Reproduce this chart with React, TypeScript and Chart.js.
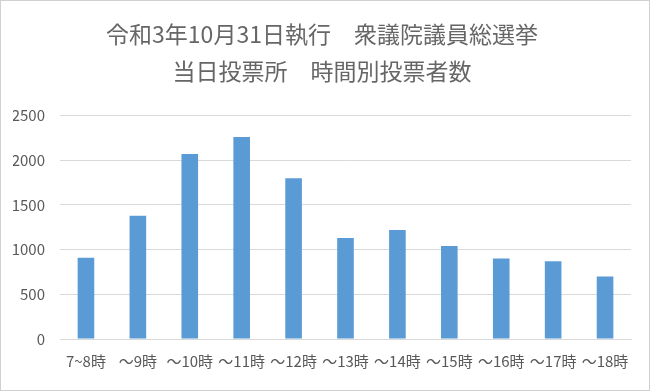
import React, { useEffect, useRef } from "react";
import { Chart, registerables } from "chart.js";

Chart.register(...registerables);

const categories = ["7~8時", "～9時", "～10時", "～11時", "～12時", "～13時", "～14時", "～15時", "～16時", "～17時", "～18時"];
const voters = [910, 1380, 2070, 2260, 1800, 1130, 1220, 1040, 900, 870, 700];
const titleLines = ["令和3年10月31日執行　衆議院議員総選挙", "当日投票所　時間別投票者数"];
const yMax = 2500;
const yStep = 500;

const FONT = '"Noto Sans CJK JP", "Noto Sans", sans-serif';

export default function App() {
  const ref = useRef<HTMLCanvasElement | null>(null);

  useEffect(() => {
    document.body.style.margin = "0";
    const ctx = ref.current!.getContext("2d")!;
    const chart = new Chart(ctx, {
      type: "bar",
      data: {
        labels: categories,
        datasets: [
          {
            data: voters,
            backgroundColor: "#5B9BD5",
            borderWidth: 0,
            categoryPercentage: 1,
            barPercentage: 0.32,
          },
        ],
      },
      options: {
        animation: false,
        responsive: false,
        maintainAspectRatio: false,
        layout: { padding: { left: 12, right: 18, top: 0, bottom: 7 } },
        plugins: {
          legend: { display: false },
          tooltip: { enabled: false },
          title: {
            display: true,
            text: titleLines,
            color: "#666666",
            font: { family: FONT, size: 23, weight: "normal", lineHeight: 1.6 },
            padding: { top: 15, bottom: 26 },
          },
        },
        scales: {
          x: {
            grid: { display: false, drawTicks: false },
            border: { display: true, color: "#D9D9D9", width: 1 },
            ticks: {
              color: "#595959",
              font: { family: FONT, size: 15 },
              padding: 13,
              maxRotation: 0,
              autoSkip: false,
            },
          },
          y: {
            min: 0,
            max: yMax,
            afterFit: (scale: any) => {
              scale.width = 47;
            },
            grid: { color: "#D9D9D9", drawTicks: false, lineWidth: 1 },
            border: { display: false },
            ticks: {
              stepSize: yStep,
              color: "#595959",
              font: { family: FONT, size: 15 },
              padding: 15,
              callback: (v: any) => String(v),
            },
          },
        },
      },
    });
    return () => chart.destroy();
  }, []);

  return (
    <div
      style={{
        width: 650,
        height: 391,
        boxSizing: "border-box",
        border: "1px solid #D0D0D0",
        background: "#fff",
      }}
    >
      <canvas ref={ref} width={648} height={389} style={{ display: "block" }} />
    </div>
  );
}
